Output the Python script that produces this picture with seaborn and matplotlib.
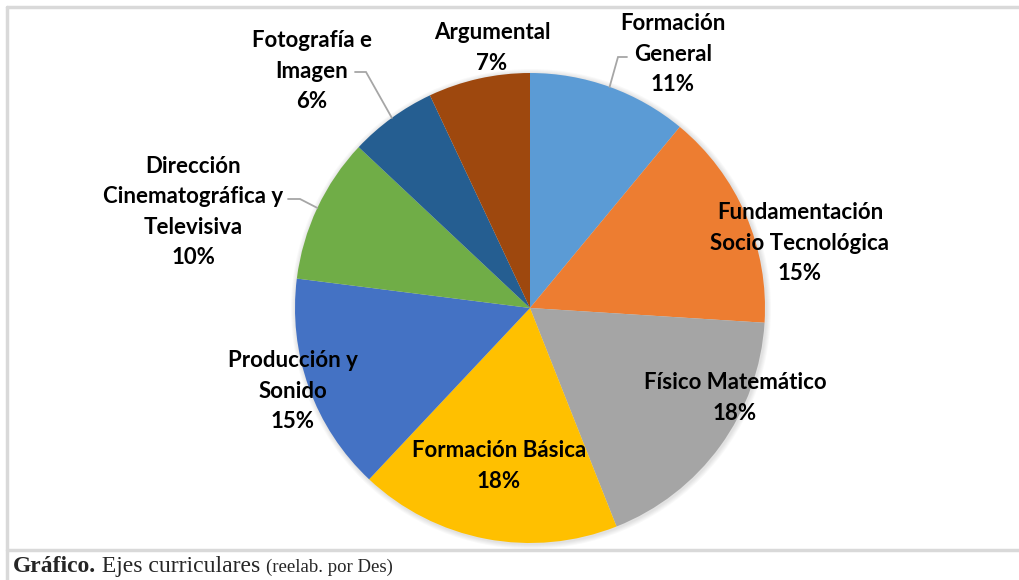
import numpy as np
import matplotlib
matplotlib.use("Agg")
import matplotlib.pyplot as plt
import seaborn as sns
from matplotlib.lines import Line2D
from matplotlib.patches import Circle

# ---- data ----
categories = ["Formación\nGeneral", "Fundamentación\nSocio Tecnológica", "Físico Matemático",
              "Formación Básica", "Producción y\nSonido",
              "Dirección\nCinematográfica y\nTelevisiva", "Fotografía e\nImagen", "Argumental"]
values = [11, 15, 18, 18, 15, 10, 6, 7]
colors = ["#5B9BD5", "#ED7D31", "#A5A5A5", "#FFC000", "#4472C4", "#70AD47", "#255E91", "#9E480E"]

# label layout (pixel positions, top-left origin) and leader flags
label_pos = [(673, 54), (800, 243), (735, 398), (499, 466), (293, 391), (193, 212), (312, 71), (492, 48)]
leader_elbow = {0: ((627, 57), (618, 57)), 5: ((288, 199), (300, 199)), 6: ((355, 72), (366, 72))}

sns.set_theme(style="white")
plt.rcParams['font.family'] = ['Lato', 'DejaVu Sans']

W, H = 1020, 580
fig = plt.figure(figsize=(W / 100, H / 100), dpi=100)
ax = fig.add_axes([0, 0, 1, 1])

cx, cy, R = 530, H - 308, 235

# soft shadow
for i in range(1, 6):
    ax.add_patch(Circle((cx + 1, cy - 1), R + i, color="#000000", alpha=0.025, lw=0, zorder=1))

wedges, _ = ax.pie(values, colors=sns.color_palette(colors), startangle=90, counterclock=False,
                   radius=R, center=(cx, cy), frame=True,
                   wedgeprops=dict(linewidth=0, zorder=2))
ax.set_xlim(0, W)
ax.set_ylim(0, H)
ax.axis("off")

for i, (cat, v) in enumerate(zip(categories, values)):
    x, y = label_pos[i]
    ax.text(x, H - y, f"{cat}\n{v}%", ha="center", va="center", multialignment="center",
            fontsize=16, fontweight="bold", color="#000000", linespacing=1.55, zorder=5)
    if i in leader_elbow:
        w = wedges[i]
        ang = np.deg2rad((w.theta1 + w.theta2) / 2)
        ex, ey = cx + R * np.cos(ang), cy + R * np.sin(ang)
        (sx, sy), (kx, ky) = leader_elbow[i]
        ax.plot([sx, kx, ex], [H - sy, H - ky, ey], color="#A6A6A6", lw=1.3,
                solid_joinstyle="miter", zorder=4)

# frame lines
fig.add_artist(Line2D([7.5 / W, 7.5 / W], [0, 1 - 6.5 / H], color="#D9D9D9", lw=2.5))
fig.add_artist(Line2D([7.5 / W, 1], [1 - 6.5 / H, 1 - 6.5 / H], color="#D9D9D9", lw=2.5))
fig.add_artist(Line2D([7.5 / W, 1], [1 - 549.5 / H, 1 - 549.5 / H], color="#D9D9D9", lw=2.5))

# caption
serif = ["Liberation Serif", "DejaVu Serif"]
parts = [("Gráfico.", 17, "bold"), (" Ejes curriculares ", 17, "normal"), ("(reelab. por Des)", 13.5, "normal")]
xpos = 13
base_y = H - 572
fig.canvas.draw()
renderer = fig.canvas.get_renderer()
for txt, fs, fw in parts:
    t = ax.text(xpos, base_y, txt, ha="left", va="baseline", fontsize=fs, fontweight=fw, family=serif)
    bb = t.get_window_extent(renderer=renderer)
    xpos = xpos + bb.width

fig.savefig("out.png", dpi=100, facecolor="white")
